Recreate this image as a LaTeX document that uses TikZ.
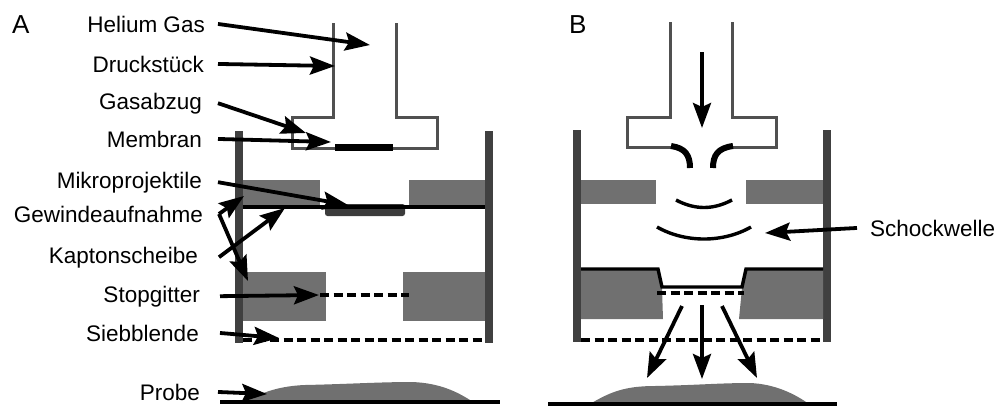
\documentclass[tikz,border=0pt]{standalone}
\usepackage{fontspec}
\setmainfont{Liberation Sans}
\usetikzlibrary{arrows.meta}

\definecolor{wallgray}{HTML}{404040}
\definecolor{blockgray}{HTML}{707070}
\definecolor{tubegray}{HTML}{505050}
\definecolor{beadgray}{HTML}{3C3C3C}

\tikzset {
    text tag/.style={
        anchor=base east,
        inner sep=0pt,
    },
    panel tag/.style={
        anchor=base west,
        inner sep=0pt,
        font=\fontsize{26}{30}\selectfont,
    },
    pointer/.style={
        line width=3.8pt,
        -{Stealth[length=25pt,width=18pt,inset=4pt]},
    },
    tube/.style={
        draw=tubegray,
        line width=3pt, % thin grey outline of the pressure piece
    },
    sieve/.style={
        line width=3.4pt,
        dash pattern=on 9pt off 4.5pt,
    },
    disc/.style={
        line width=3.4pt,
    },
}

\begin{document}
\begin{tikzpicture}[x=1pt, y=-1pt, font=\fontsize{22.5}{27}\selectfont]
    \useasboundingbox (0,0) rectangle (999,408);

    % ---------------- A ----------------
    \node[panel tag] (panelA) at (12,33) {A};

    % chamber walls and blocks
    \fill[wallgray] (235,131) rectangle (243,343);
    \fill[wallgray] (485,131) rectangle (493,343);
    \fill[blockgray] (243,180) rectangle (320,207);
    \fill[blockgray] (409,180) rectangle (485,207);
    \fill[blockgray] (243,272) rectangle (326,321);
    \fill[blockgray] (403,272) rectangle (485,321);

    % pressure piece with membrane
    \draw[tube] (333,23) -- (333,117) -- (292,117) -- (292,148) -- (437,148) -- (437,117) -- (396,117) -- (396,23);
    \draw[line width=7pt] (335,147) -- (393,147);

    % kapton disc and projectiles
    \fill[beadgray, rounded corners=2.5pt] (325,204) rectangle (405,216);
    \draw[disc] (243,207) -- (485,207);

    % stop grid and sieve
    \draw[sieve] (320,295) -- (409,295);
    \draw[sieve] (243,340) -- (485,340);

    % sample
    \fill[blockgray] (245,402) .. controls (262,392) and (280,386) .. (305,385)
        .. controls (350,384) and (380,382) .. (412,382)
        .. controls (440,383) and (458,392) .. (473,402) -- cycle;
    \draw[disc] (220,402) -- (500,402);

    % labels
    \node[text tag] (helium)  at (205,32)  {Helium Gas};
    \node[text tag] (druck)   at (204,72)  {Druckstück};
    \node[text tag] (gasab)   at (202,109) {Gasabzug};
    \node[text tag] (membran) at (202,147) {Membran};
    \node[text tag] (mikro)   at (202,188) {Mikroprojektile};
    \node[text tag] (gewinde) at (203,222) {Gewindeaufnahme};
    \node[text tag] (kapton)  at (198,263) {Kaptonscheibe};
    \node[text tag] (stop)    at (200,302) {Stopgitter};
    \node[text tag] (sieb)    at (199,341) {Siebblende};
    \node[text tag] (probe)   at (200,400) {Probe};

    \coordinate (heliumtip)  at (370,45);
    \coordinate (drucktip)   at (335,66);
    \coordinate (gasabtip)   at (306,133);
    \coordinate (membrantip) at (331,142);
    \coordinate (mikrotip)   at (348,205);
    \coordinate (gewtop)     at (244,196);
    \coordinate (gewbottom)  at (248,281);
    \coordinate (kaptontip)  at (285,208);
    \coordinate (stoptip)    at (319,295);
    \coordinate (siebtip)    at (279,338);
    \coordinate (probetip)   at (267,394);

    \draw[pointer] ([xshift=13pt]helium.east)  -- (heliumtip);
    \draw[pointer] ([xshift=14pt]druck.east)   -- (drucktip);
    \draw[pointer] ([xshift=16pt]gasab.east)   -- (gasabtip);
    \draw[pointer] ([xshift=16pt]membran.east) -- (membrantip);
    \draw[pointer] ([xshift=16pt]mikro.east)   -- (mikrotip);
    \draw[pointer] ([xshift=16pt]gewinde.east) -- (gewtop);
    \draw[pointer] ([xshift=16pt]gewinde.east) -- (gewbottom);
    \draw[pointer] ([xshift=21pt]kapton.east)  -- (kaptontip);
    \draw[pointer] ([xshift=20pt]stop.east)    -- (stoptip);
    \draw[pointer] ([xshift=21pt]sieb.east)    -- (siebtip);
    \draw[pointer] ([xshift=18pt]probe.east)   -- (probetip);

    % ---------------- B ----------------
    \node[panel tag] (panelB) at (569,33) {B};

    % chamber walls and blocks
    \fill[wallgray] (573,130) rectangle (581,342);
    \fill[wallgray] (823,130) rectangle (831,342);
    \fill[blockgray] (581,180) rectangle (656,204);
    \fill[blockgray] (746,180) rectangle (823,204);
    \fill[blockgray] (581,270) -- (658,270) -- (662,288) -- (663,319) -- (581,319) -- cycle;
    \fill[blockgray] (823,270) -- (746,270) -- (742,288) -- (739,319) -- (823,319) -- cycle;

    % pressure piece, burst membrane
    \draw[tube] (670,22) -- (670,117) -- (627,117) -- (627,147) -- (672,147);
    \draw[tube] (732,22) -- (732,117) -- (776,117) -- (776,147) -- (732,147);
    \draw[line width=6pt] (671,146) .. controls (685,148) and (690,155) .. (690,168);
    \draw[line width=6pt] (733,146) .. controls (718,148) and (713,155) .. (713,168);

    \coordinate (gasin)  at (702,52);
    \coordinate (gasout) at (702,128);
    \draw[pointer] (gasin) -- (gasout);

    % shock front
    \draw[disc] (676,200) .. controls (695,210) and (713,210) .. (732,200);
    \draw[disc] (657,227) .. controls (685,243) and (723,243) .. (751,227);

    % deformed disc, stop grid, sieve
    \draw[disc] (581,269) -- (658,269) -- (662,287) -- (742,287) -- (746,269) -- (823,269);
    \draw[sieve] (657,293) -- (744,293);
    \draw[sieve] (581,340) -- (823,340);

    % particle jets
    \coordinate (jetl)  at (682,306);
    \coordinate (jetm)  at (702,305);
    \coordinate (jetr)  at (722,306);
    \coordinate (hitl)  at (647,378);
    \coordinate (hitm)  at (702,379);
    \coordinate (hitr)  at (757,378);
    \draw[pointer] (jetl) -- (hitl);
    \draw[pointer] (jetm) -- (hitm);
    \draw[pointer] (jetr) -- (hitr);

    % sample
    \fill[blockgray] (590,404) .. controls (610,392) and (625,386) .. (655,386)
        .. controls (700,385) and (720,383) .. (750,383)
        .. controls (775,384) and (795,394) .. (809,404) -- cycle;
    \draw[disc] (548,404) -- (837,404);

    \node[text tag, anchor=base west] (schock) at (870,236) {Schockwelle};
    \coordinate (schocktip) at (765,233);
    \draw[pointer] ([xshift=-13pt]schock.west) -- (schocktip);
\end{tikzpicture}
\end{document}
